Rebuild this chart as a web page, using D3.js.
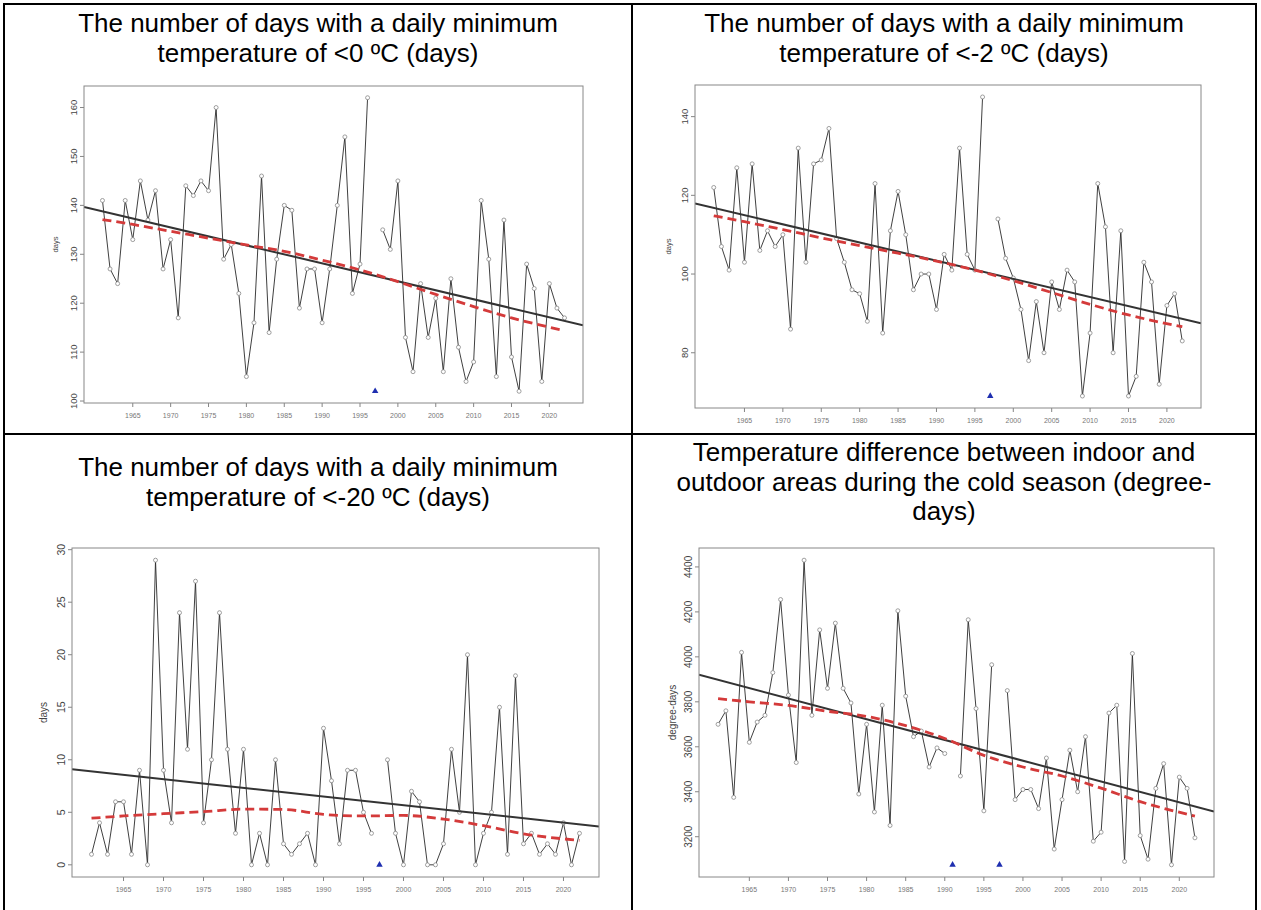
<!DOCTYPE html>
<html>
<head>
<meta charset="utf-8">
<script src="https://cdn.jsdelivr.net/npm/d3@7"></script>
<style>
  body { margin: 0; background: #fff; }
  svg { display: block; }
  text { font-family: "Liberation Sans", Arial, sans-serif; }
  .title { font-size: 26px; fill: #000; }
  .ytick { fill: #444; }
  .xtick { font-size: 7px; fill: #777; }
  .ylab { fill: #444; }
</style>
</head>
<body>
<svg id="chart" width="1261" height="910"></svg>
<script>
'use strict';

// years of observation (1997 has no data in every series)
var years = [1961, 1962, 1963, 1964, 1965, 1966, 1967, 1968, 1969, 1970,
             1971, 1972, 1973, 1974, 1975, 1976, 1977, 1978, 1979, 1980,
             1981, 1982, 1983, 1984, 1985, 1986, 1987, 1988, 1989, 1990,
             1991, 1992, 1993, 1994, 1995, 1996, 1997, 1998, 1999, 2000,
             2001, 2002, 2003, 2004, 2005, 2006, 2007, 2008, 2009, 2010,
             2011, 2012, 2013, 2014, 2015, 2016, 2017, 2018, 2019, 2020,
             2021, 2022];
var xTicks = [1965, 1970, 1975, 1980, 1985, 1990, 1995, 2000, 2005, 2010, 2015, 2020];

// days with Tmin < 0 ºC
var daysBelow0 = [141, 127, 124, 141, 133, 145, 137, 143, 127, 133,
                  117, 144, 142, 145, 143, 160, 129, 132, 122, 105,
                  116, 146, 114, 129, 140, 139, 119, 127, 127, 116,
                  127, 140, 154, 122, 128, 162, null, 135, 131, 145,
                  113, 106, 124, 113, 121, 106, 125, 111, 104, 108,
                  141, 129, 105, 137, 109, 102, 128, 123, 104, 124,
                  119, 117];
// days with Tmin < -2 ºC
var daysBelowM2 = [122, 107, 101, 127, 103, 128, 106, 111, 107, 110,
                   86, 132, 103, 128, 129, 137, 109, 103, 96, 95,
                   88, 123, 85, 111, 121, 110, 96, 100, 100, 91,
                   105, 101, 132, 105, 101, 145, null, 114, 104, 99,
                   91, 78, 93, 80, 98, 91, 101, 98, 69, 85,
                   123, 112, 80, 111, 69, 74, 103, 98, 72, 92,
                   95, 83];
// days with Tmin < -20 ºC
var daysBelowM20 = [1, 4, 1, 6, 6, 1, 9, 0, 29, 9,
                    4, 24, 11, 27, 4, 10, 24, 11, 3, 11,
                    0, 3, 0, 10, 2, 1, 2, 3, 0, 13,
                    8, 2, 9, 9, 5, 3, null, 10, 3, 0,
                    7, 6, 0, 0, 2, 11, 5, 20, 0, 3,
                    5, 15, 1, 18, 2, 3, 1, 2, 1, 4,
                    0, 3];
// indoor/outdoor temperature difference, degree-days
var degreeDays = [3700, 3760, 3375, 4020, 3620, 3710, 3740, 3930, 4255, 3830,
                  3530, 4430, 3740, 4120, 3860, 4150, 3860, 3795, 3390, 3700,
                  3310, 3785, 3250, 4205, 3825, 3645, 3670, 3510, 3595, 3570,
                  null, 3470, 4165, 3770, 3315, 3965, null, 3850, 3365, 3410,
                  3410, 3325, 3550, 3145, 3365, 3585, 3400, 3645, 3180, 3220,
                  3750, 3785, 3090, 4015, 3205, 3100, 3415, 3525, 3075, 3465,
                  3415, 3195];

var yTicksBelow0 = [100, 110, 120, 130, 140, 150, 160];
var yTicksBelowM2 = [80, 100, 120, 140];
var yTicksBelowM20 = [0, 5, 10, 15, 20, 25, 30];
var yTicksDegreeDays = [3200, 3400, 3600, 3800, 4000, 4200, 4400];

// linear trend, read at 1961 and 2022
var trendYears = [1961, 2022];
var trendBelow0 = [138.8, 116.4];
var trendBelowM2 = [116.8, 88.6];
var trendBelowM20 = [8.9, 3.86];
var trendDegreeDays = [3898, 3335];

// smoothed curve (red dashed)
var smoothYears = [1961, 1965, 1970, 1975, 1980, 1985, 1990, 1995, 2000, 2005, 2010, 2015, 2022];
var smoothBelow0 = [137.1, 136.1, 134.7, 133.3, 131.9, 130.6, 128.8, 126.8, 124.4, 121.8, 119.3, 117.0, 114.4];
var smoothBelowM2 = [114.8, 113.3, 111.3, 109.2, 107.2, 105.3, 103.3, 101.0, 98.3, 95.3, 92.3, 89.6, 86.6];
var smoothBelowM20 = [4.44, 4.65, 4.87, 5.06, 5.3, 5.27, 4.8, 4.65, 4.7, 4.35, 3.72, 2.95, 2.33];
var smoothDegreeDays = [3814, 3800, 3784, 3758, 3735, 3694, 3637, 3562, 3510, 3470, 3416, 3356, 3292];

// years flagged with a blue triangle
var flagsBelow0 = [1997];
var flagsBelowM2 = [1997];
var flagsBelowM20 = [1997];
var flagsDegreeDays = [1991, 1997];

var svg = d3.select('#chart');
svg.append('rect').attr('width', 1261).attr('height', 910).attr('fill', '#fff');

var panels = [
    { values: daysBelow0, yTicks: yTicksBelow0, trend: trendBelow0, smooth: smoothBelow0, flags: flagsBelow0,
      box: { x0: 84, x1: 583, y0: 86, y1: 403 }, ylab: 'days', ylabX: 55, ylabSize: 7.5, tickSize: 9.5,
      cx: 318, title: ['The number of days with a daily minimum', 'temperature of <0 ºC (days)'], titleY: 32 },
    { values: daysBelowM2, yTicks: yTicksBelowM2, trend: trendBelowM2, smooth: smoothBelowM2, flags: flagsBelowM2,
      box: { x0: 695, x1: 1201, y0: 85, y1: 408 }, ylab: 'days', ylabX: 668, ylabSize: 7.5, tickSize: 9.5,
      cx: 944, title: ['The number of days with a daily minimum', 'temperature of <-2 ºC (days)'], titleY: 32 },
    { values: daysBelowM20, yTicks: yTicksBelowM20, trend: trendBelowM20, smooth: smoothBelowM20, flags: flagsBelowM20,
      box: { x0: 72, x1: 599, y0: 548, y1: 877 }, ylab: 'days', ylabX: 43, ylabSize: 10, tickSize: 10.5,
      cx: 318, title: ['The number of days with a daily minimum', 'temperature of <-20 ºC (days)'], titleY: 476 },
    { values: degreeDays, yTicks: yTicksDegreeDays, trend: trendDegreeDays, smooth: smoothDegreeDays, flags: flagsDegreeDays,
      box: { x0: 699, x1: 1214, y0: 548, y1: 877 }, ylab: 'degree-days', ylabX: 672, ylabSize: 10, tickSize: 10,
      cx: 944, title: ['Temperature difference between indoor and', 'outdoor areas during the cold season (degree-', 'days)'], titleY: 461 }
];

// R-style axis range: data extent widened by 4% on each side
function padded(ext) {
    var d = (ext[1] - ext[0]) * 0.04;
    return [ext[0] - d, ext[1] + d];
}

panels.forEach(function (p) {
    var b = p.box;
    var x = d3.scaleLinear().domain(padded(d3.extent(years))).range([b.x0, b.x1]);
    var y = d3.scaleLinear().domain(padded(d3.extent(p.values))).range([b.y1, b.y0]);
    var g = svg.append('g');

    // titles
    g.selectAll('text.title').data(p.title).enter().append('text')
        .attr('class', 'title')
        .attr('x', p.cx)
        .attr('y', function (d, i) { return p.titleY + i * 29.5; })
        .attr('text-anchor', 'middle')
        .text(function (d) { return d; });

    // y axis ticks + rotated labels
    g.selectAll('line.yt').data(p.yTicks).enter().append('line')
        .attr('x1', b.x0 - 4).attr('x2', b.x0)
        .attr('y1', function (d) { return y(d); }).attr('y2', function (d) { return y(d); })
        .attr('stroke', '#666').attr('stroke-width', 0.8);
    g.selectAll('text.ytick').data(p.yTicks).enter().append('text')
        .attr('class', 'ytick')
        .style('font-size', p.tickSize + 'px')
        .attr('text-anchor', 'middle')
        .attr('transform', function (d) { return 'translate(' + (b.x0 - 7) + ',' + y(d) + ') rotate(-90)'; })
        .text(function (d) { return d; });

    g.append('text').attr('class', 'ylab')
        .attr('text-anchor', 'middle')
        .style('font-size', p.ylabSize + 'px')
        .attr('transform', 'translate(' + (p.ylabX + p.ylabSize * 0.35) + ',' + ((b.y0 + b.y1) / 2) + ') rotate(-90)')
        .text(p.ylab);

    // x axis ticks + labels
    g.selectAll('line.xt').data(xTicks).enter().append('line')
        .attr('x1', function (d) { return x(d); }).attr('x2', function (d) { return x(d); })
        .attr('y1', b.y1).attr('y2', b.y1 + 4)
        .attr('stroke', '#666').attr('stroke-width', 0.8);
    g.selectAll('text.xtick').data(xTicks).enter().append('text')
        .attr('class', 'xtick')
        .attr('x', function (d) { return x(d); })
        .attr('y', b.y1 + 15)
        .attr('text-anchor', 'middle')
        .text(function (d) { return d; });

    // clip for lines running to the box edges
    var clipId = 'clip' + b.x0 + '_' + b.y0;
    g.append('clipPath').attr('id', clipId).append('rect')
        .attr('x', b.x0).attr('y', b.y0).attr('width', b.x1 - b.x0).attr('height', b.y1 - b.y0);
    var plot = g.append('g').attr('clip-path', 'url(#' + clipId + ')');

    var series = years.map(function (yr, i) { return { year: yr, v: p.values[i] }; });

    // observed series
    var line = d3.line()
        .defined(function (d) { return d.v !== null; })
        .x(function (d) { return x(d.year); })
        .y(function (d) { return y(d.v); });
    plot.append('path').datum(series)
        .attr('d', line)
        .attr('fill', 'none').attr('stroke', '#2a2a2a').attr('stroke-width', 0.9);
    plot.selectAll('circle').data(series.filter(function (d) { return d.v !== null; }))
        .enter().append('circle')
        .attr('cx', function (d) { return x(d.year); })
        .attr('cy', function (d) { return y(d.v); })
        .attr('r', 2)
        .attr('fill', '#fff').attr('stroke', '#888').attr('stroke-width', 0.8);

    // linear trend, extended over the full plot width
    var slope = (p.trend[1] - p.trend[0]) / (trendYears[1] - trendYears[0]);
    var xd = x.domain();
    var trendPts = xd.map(function (yr) { return [yr, p.trend[0] + slope * (yr - trendYears[0])]; });
    plot.append('path').datum(trendPts)
        .attr('d', d3.line().x(function (d) { return x(d[0]); }).y(function (d) { return y(d[1]); }))
        .attr('fill', 'none').attr('stroke', '#333').attr('stroke-width', 2);

    // smoothed curve
    var smoothPts = smoothYears.map(function (yr, i) { return [yr, p.smooth[i]]; });
    plot.append('path').datum(smoothPts)
        .attr('d', d3.line().curve(d3.curveMonotoneX)
            .x(function (d) { return x(d[0]); }).y(function (d) { return y(d[1]); }))
        .attr('fill', 'none').attr('stroke', '#d43a3a').attr('stroke-width', 2.8)
        .attr('stroke-dasharray', '9,5');

    // flagged years, drawn at the series minimum
    var ymin = d3.min(p.values);
    plot.selectAll('path.flag').data(p.flags).enter().append('path')
        .attr('class', 'flag')
        .attr('d', d3.symbol().type(d3.symbolTriangle).size(18))
        .attr('transform', function (d) { return 'translate(' + x(d) + ',' + y(ymin) + ')'; })
        .attr('fill', '#1f2fb0');

    // plot frame
    g.append('rect')
        .attr('x', b.x0).attr('y', b.y0).attr('width', b.x1 - b.x0).attr('height', b.y1 - b.y0)
        .attr('fill', 'none').attr('stroke', '#888').attr('stroke-width', 1);
});

// table grid
var grid = svg.append('g').attr('stroke', '#000').attr('stroke-width', 2).attr('fill', 'none');
grid.append('path').attr('d', 'M4,915 L4,4 L1256,4 L1256,915');
grid.append('line').attr('x1', 632).attr('x2', 632).attr('y1', 4).attr('y2', 915);
grid.append('line').attr('x1', 4).attr('x2', 1256).attr('y1', 434).attr('y2', 434);
</script>
</body>
</html>
